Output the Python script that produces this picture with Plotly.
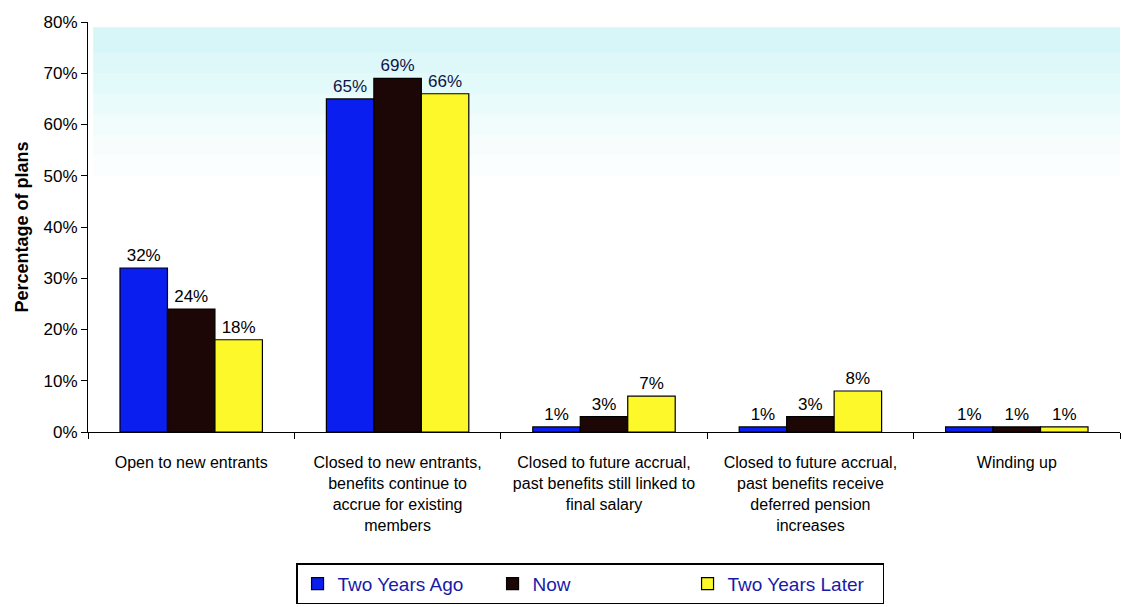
import plotly.graph_objects as go

categories = [
    "Open to new entrants",
    "Closed to new entrants,<br>benefits continue to<br>accrue for existing<br>members",
    "Closed to future accrual,<br>past benefits still linked to<br>final salary",
    "Closed to future accrual,<br>past benefits receive<br>deferred pension<br>increases",
    "Winding up",
]
two_years_ago = [0.32, 0.65, 0.01, 0.01, 0.01]
now = [0.24, 0.69, 0.03, 0.03, 0.01]
two_years_later = [0.18, 0.66, 0.07, 0.08, 0.01]
series_names = ["Two Years Ago", "Now", "Two Years Later"]
colors = ["#0a1ef0", "#1c0606", "#fcf82a"]

label_colors = ["#000000", "#0d1446", "#000000", "#000000", "#000000"]

fig = go.Figure()
for name, vals, col in zip(series_names, [two_years_ago, now, two_years_later], colors):
    fig.add_trace(go.Bar(
        name=name, x=categories, y=vals,
        marker=dict(color=col, line=dict(color="black", width=1.2)),
        text=[f"{round(v*100)}%" for v in vals],
        textposition="outside",
        textfont=dict(family="Arial", size=17, color=label_colors),
        cliponaxis=False,
    ))

# faint cyan highlighter wash near the top of the plot
shapes = []
for y0, op in [(0.74, 0.07), (0.70, 0.07), (0.66, 0.06), (0.62, 0.06), (0.58, 0.05),
               (0.54, 0.04), (0.50, 0.04)]:
    shapes.append(dict(type="rect", xref="paper", yref="y", x0=0.005, x1=1.0,
                       y0=y0, y1=0.79, fillcolor="#8fe6f0", opacity=op,
                       line=dict(width=0), layer="below"))

fig.update_layout(
    width=1123, height=607,
    margin=dict(l=88, r=3, t=22, b=169),
    paper_bgcolor="white", plot_bgcolor="white",
    barmode="group", bargap=0.31, bargroupgap=0,
    font=dict(family="Arial", size=16, color="black"),
    shapes=shapes,
    showlegend=True,
    legend=dict(
        orientation="h", x=0.2016, y=-0.32, xanchor="left", yanchor="top",
        bordercolor="black", borderwidth=1.5, bgcolor="white",
        font=dict(family="Arial", size=19, color="#1a1aa8"),
        entrywidth=150, entrywidthmode="pixels",
        itemwidth=30, traceorder="normal",
    ),
    xaxis=dict(
        showline=True, linecolor="black", linewidth=1.2,
        ticks="outside", ticklen=6, tickcolor="black", tickson="boundaries",
        tickfont=dict(family="Arial", size=16, color="black"),
        ticklabelstandoff=16,
    ),
    yaxis=dict(
        range=[0, 0.8], dtick=0.1, tickformat=".0%",
        showline=True, linecolor="black", linewidth=1.2,
        ticks="outside", ticklen=6, tickcolor="black",
        showgrid=False, zeroline=False,
        tickfont=dict(family="Arial", size=17, color="black"),
        title=dict(text="<b>Percentage of plans</b>", font=dict(family="Arial", size=18, color="black"), standoff=10),
    ),
)

fig.write_html("out.html")
